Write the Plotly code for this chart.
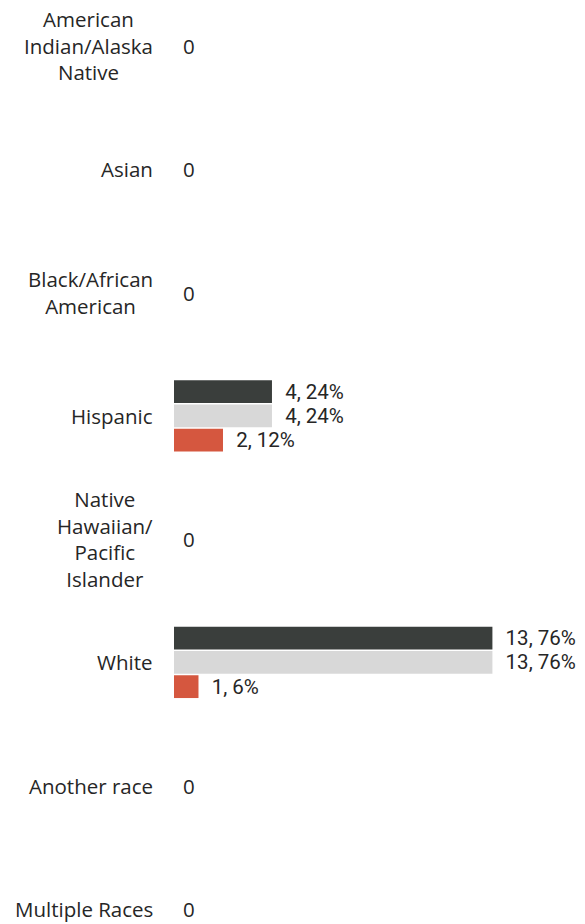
import plotly.graph_objects as go

# Race / ethnicity categories (line breaks as displayed)
categories = [
    "American<br>Indian/Alaska<br>Native",
    "Asian",
    "Black/African<br>American",
    "Hispanic",
    "Native<br>Hawaiian/<br>Pacific<br>Islander",
    "White",
    "Another race",
    "Multiple Races",
]

# Counts for the three series
series_a = [0, 0, 0, 4, 0, 13, 0, 0]
series_b = [0, 0, 0, 4, 0, 13, 0, 0]
series_c = [0, 0, 0, 2, 0, 1, 0, 0]

# Percentages shown next to the counts
pct_a = [0, 0, 0, 24, 0, 76, 0, 0]
pct_b = [0, 0, 0, 24, 0, 76, 0, 0]
pct_c = [0, 0, 0, 12, 0, 6, 0, 0]

colors = ["#3a3e3c", "#d8d8d8", "#d5573f"]
FONT = "Open Sans"
VALUE_FONT = "Roboto"
TEXT_COLOR = "#262626"
FS = 20.5

fig = go.Figure()
for vals, pcts, col in zip([series_a, series_b, series_c],
                           [pct_a, pct_b, pct_c], colors):
    labels = [f"&nbsp;&nbsp;{v}, {p}%" if v > 0 else "" for v, p in zip(vals, pcts)]
    fig.add_trace(go.Bar(
        y=categories, x=vals, orientation="h",
        marker=dict(color=col, line=dict(width=0)),
        text=labels, textposition="outside", cliponaxis=False,
        constraintext="none",
        textfont=dict(family=VALUE_FONT, size=20.5, color=TEXT_COLOR),
        showlegend=False,
    ))

# Category labels: right-aligned block, each line centered in the block
for cat in categories:
    fig.add_annotation(
        x=0, xref="paper", y=cat, yref="y",
        text=cat, showarrow=False, xanchor="right", yanchor="middle",
        align="center", xshift=-20, borderpad=0,
        font=dict(family=FONT, size=FS, color=TEXT_COLOR),
    )

# Single "0" label for categories with no counts
for i, cat in enumerate(categories):
    if series_a[i] == 0 and series_b[i] == 0 and series_c[i] == 0:
        fig.add_annotation(
            x=0, xref="x", y=cat, yref="y", text="0", showarrow=False,
            xanchor="left", yanchor="middle", xshift=8, borderpad=0,
            font=dict(family=FONT, size=FS, color=TEXT_COLOR),
        )

fig.update_layout(
    width=585, height=924,
    margin=dict(l=174, r=0, t=0, b=0),
    paper_bgcolor="white", plot_bgcolor="white",
    barmode="group", bargap=0.41, bargroupgap=0.06,
    xaxis=dict(range=[0, 16.78], visible=False, fixedrange=True),
    yaxis=dict(range=[7.122, -0.373], showticklabels=False, showgrid=False,
               zeroline=False, showline=False, ticks="", fixedrange=True),
    font=dict(family=FONT, size=FS, color=TEXT_COLOR),
)

fig.write_html("out.html")
